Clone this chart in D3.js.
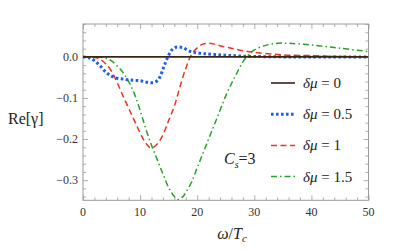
<!DOCTYPE html>
<html>
<head>
<meta charset="utf-8">
<script src="https://cdn.jsdelivr.net/npm/d3@7"></script>
<style>
  body { margin: 0; background: #fff; }
</style>
</head>
<body>
<div id="chart"></div>
<script>
// data
const labels = ["δμ = 0", "δμ = 0.5", "δμ = 1", "δμ = 1.5"];
const colors = ["#3a2414", "#1f5cf0", "#ee3322", "#2aa02a"];

const omega0 = [0, 50];
const gamma0 = [0, 0];

const omega05 = [0, 1, 2, 3, 4, 5, 6, 7, 8, 9, 10, 11, 12, 13, 13.5, 14, 14.5, 15, 15.5, 16, 16.7, 17.5, 18.5, 19.5, 21, 23, 26, 30, 35, 40, 50];
const gamma05 = [0, -0.002, -0.009, -0.022, -0.037, -0.047, -0.052, -0.054, -0.056, -0.057, -0.058, -0.061, -0.063, -0.058, -0.048, -0.03, -0.012, 0.004, 0.016, 0.022, 0.024, 0.022, 0.015, 0.011, 0.008, 0.006, 0.003, 0.001, 0, 0, 0];

const omega1 = [0, 2, 3, 4, 5, 6, 7, 8, 9, 10, 11, 12, 13, 14, 15, 16, 17, 18, 19, 20, 21, 22, 23, 24, 26, 28, 30, 35, 40, 45, 50];
const gamma1 = [0, -0.001, -0.006, -0.017, -0.035, -0.063, -0.095, -0.125, -0.155, -0.185, -0.21, -0.222, -0.212, -0.19, -0.155, -0.12, -0.072, -0.028, 0.006, 0.022, 0.031, 0.033, 0.031, 0.027, 0.021, 0.015, 0.011, 0.005, 0.003, 0.001, 0];

const omega15 = [0, 2, 4, 5, 6, 7, 8, 9, 10, 11, 12, 13, 14, 15, 16, 16.7, 17.5, 18, 19, 20, 21, 22, 23, 24, 25, 26, 27, 28, 29, 30, 32, 34, 36, 40, 45, 50];
const gamma15 = [0, 0, -0.003, -0.01, -0.022, -0.038, -0.06, -0.09, -0.13, -0.175, -0.215, -0.25, -0.285, -0.318, -0.34, -0.347, -0.34, -0.33, -0.305, -0.27, -0.235, -0.2, -0.165, -0.13, -0.095, -0.065, -0.038, -0.012, 0.005, 0.017, 0.028, 0.033, 0.033, 0.029, 0.021, 0.013];

const xMajor = [0, 10, 20, 30, 40, 50];
const yMajor = [0, -0.1, -0.2, -0.3];

const series = [
  { x: omega0, y: gamma0 },
  { x: omega05, y: gamma05 },
  { x: omega1, y: gamma1 },
  { x: omega15, y: gamma15 }
];

const serif = "'Liberation Serif', 'Times New Roman', 'DejaVu Serif', serif";

var margin = {top: 24, right: 46.5, bottom: 49.7, left: 83};
var W = 415, H = 250;
var width = W - margin.left - margin.right,
    height = H - margin.top - margin.bottom;

var svg = d3.select("#chart")
  .append("svg")
  .attr("width", W)
  .attr("height", H)
  .style("font-family", serif);

var g = svg.append("g")
  .attr("transform", "translate(" + margin.left + "," + margin.top + ")");

const x = d3.scaleLinear().domain([0, 50]).range([0, width]);
const y = d3.scaleLinear().domain([-0.349, 0.08]).range([height, 0]);

// clip
svg.append("defs").append("clipPath").attr("id", "clip")
  .append("rect").attr("width", width).attr("height", height);

const frameColor = "#9a9a9a";

// minor tick values
const xMinor = d3.range(0, 50.01, 2).filter(v => v % 10 !== 0);
const yMinor = d3.range(-0.34, 0.081, 0.02).map(v => +v.toFixed(2)).filter(v => Math.abs(v * 10 - Math.round(v * 10)) > 1e-6);

function tickAxis(axisFn, scale, vals, size, transform) {
  const a = g.append("g")
    .attr("transform", transform)
    .call(axisFn(scale).tickValues(vals).tickSize(-size).tickFormat(""));
  a.select(".domain").remove();
  a.selectAll(".tick line").attr("stroke", frameColor).attr("stroke-width", 0.8);
  return a;
}

// ticks inward on all four sides
tickAxis(d3.axisBottom, x, xMajor, 5, `translate(0,${height})`);
tickAxis(d3.axisBottom, x, xMinor, 3, `translate(0,${height})`);
tickAxis(d3.axisTop, x, xMajor, 5, "translate(0,0)");
tickAxis(d3.axisTop, x, xMinor, 3, "translate(0,0)");
tickAxis(d3.axisLeft, y, yMajor, 5, "translate(0,0)");
tickAxis(d3.axisLeft, y, yMinor, 3, "translate(0,0)");
tickAxis(d3.axisRight, y, yMajor, 5, `translate(${width},0)`);
tickAxis(d3.axisRight, y, yMinor, 3, `translate(${width},0)`);

// frame
g.append("rect")
  .attr("width", width)
  .attr("height", height)
  .attr("fill", "none")
  .attr("stroke", frameColor)
  .attr("stroke-width", 1);

// tick labels
g.selectAll(".xl").data(xMajor).join("text")
  .attr("x", d => x(d))
  .attr("y", height + 16)
  .attr("text-anchor", "middle")
  .style("font-family", serif)
  .style("font-size", "12px")
  .attr("fill", "#333")
  .text(d => d);

g.selectAll(".yl").data(yMajor).join("text")
  .attr("x", -5)
  .attr("y", d => y(d) + 4)
  .attr("text-anchor", "end")
  .style("font-family", serif)
  .style("font-size", "12px")
  .attr("fill", "#333")
  .text(d => d === 0 ? "0.0" : "\u2212" + Math.abs(d).toFixed(1));

// curves
const dashes = [null, "2.6,2.4", "6,3.5", "6,3,1.5,3"];
const widths = [1.6, 3, 1.5, 1.5];

const line = d3.line()
  .x(d => x(d[0]))
  .y(d => y(d[1]))
  .curve(d3.curveCatmullRom.alpha(0.5));

const plot = g.append("g").attr("clip-path", "url(#clip)");
const order = [3, 2, 1, 0];
order.forEach(i => {
  const pts = series[i].x.map((v, k) => [v, series[i].y[k]]);
  plot.append("path")
    .datum(pts)
    .attr("fill", "none")
    .attr("stroke", colors[i])
    .attr("stroke-width", widths[i])
    .attr("stroke-dasharray", dashes[i])
    .attr("d", line);
});

// legend
const legend = svg.append("g").attr("transform", "translate(271,83)");
labels.forEach((lab, i) => {
  const item = legend.append("g").attr("transform", `translate(0,${i * 31.2})`);
  item.append("line")
    .attr("x1", 0).attr("x2", 24)
    .attr("stroke", colors[i])
    .attr("stroke-width", widths[i])
    .attr("stroke-dasharray", dashes[i]);
  const parts = lab.split(" = ");
  const t = item.append("text")
    .attr("x", 32)
    .attr("y", 5)
    .style("font-family", serif)
    .style("font-size", "15px")
    .attr("fill", "#222");
  t.append("tspan").style("font-style", "italic").text(parts[0]);
  t.append("tspan").text(" = " + parts[1]);
});

// C_s = 3 annotation
const cs = svg.append("text")
  .attr("x", 224)
  .attr("y", 164)
  .style("font-family", serif)
  .style("font-size", "16px")
  .attr("fill", "#222");
cs.append("tspan").style("font-style", "italic").text("C");
cs.append("tspan").style("font-style", "italic").style("font-size", "10px").attr("dy", 4).text("s");
cs.append("tspan").attr("dy", -4).text("=3");

// axis titles
const xt = svg.append("text")
  .attr("x", 232)
  .attr("y", 239)
  .attr("text-anchor", "middle")
  .style("font-family", serif)
  .style("font-size", "16px")
  .attr("fill", "#222");
xt.append("tspan").style("font-style", "italic").text("ω");
xt.append("tspan").text("/");
xt.append("tspan").style("font-style", "italic").text("T");
xt.append("tspan").style("font-style", "italic").style("font-size", "11px").attr("dy", 3).text("c");

svg.append("text")
  .attr("x", 8)
  .attr("y", 124)
  .style("font-family", serif)
  .style("font-size", "16px")
  .attr("fill", "#222")
  .text("Re[γ]");
</script>
</body>
</html>
